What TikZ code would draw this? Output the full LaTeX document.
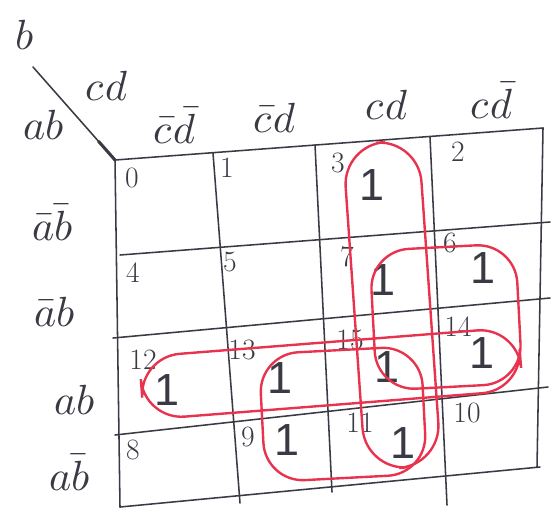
\documentclass[tikz,border=0pt]{standalone}
\usepackage{fontspec}
\usepackage{unicode-math}
\usetikzlibrary{calc}
\newfontfamily\onefont{Liberation Sans}
\definecolor{pencil}{HTML}{3A3A44}
\definecolor{marker}{HTML}{E8334F}
\tikzset{
  gridline/.style={draw=pencil, line width=1.1pt, line cap=round},
  loopline/.style={draw=marker, line width=1.7pt, rounded corners=#1},
  loopline/.default=25,
  varlabel/.style={text=pencil, font=\fontsize{30}{34}\selectfont, inner sep=0pt},
  cellnum/.style={text=pencil, font=\fontsize{21}{24}\selectfont, inner sep=0pt},
  cellone/.style={text=pencil, font=\fontsize{32}{36}\selectfont\onefont, inner sep=0pt}
}

\begin{document}
\begin{tikzpicture}[x=0.025cm, y=-0.025cm]

\useasboundingbox (0,0) rectangle (551,508);

% grid corners
\coordinate (t0) at (115,160);
\coordinate (t1) at (213,153);
\coordinate (t2) at (315,145);
\coordinate (t3) at (430,137);
\coordinate (t4) at (543,128);
\coordinate (b0) at (120,507);
\coordinate (b1) at (240,503);
\coordinate (b2) at (332,492);
\coordinate (b3) at (447,505);
\coordinate (b4) at (537,467);
\coordinate (l1) at (120,255);
\coordinate (r1) at (550,222);
\coordinate (l2) at (113,338);
\coordinate (r2) at (550,298);
\coordinate (l3) at (115,435);
\coordinate (r3) at (548,387);
\coordinate (l4) at (120,507);
\coordinate (r4) at (540,467);
\coordinate (corner) at (33,67);

% grid
\draw[gridline] (t0) -- (t4);
\draw[gridline] (l1) -- (r1);
\draw[gridline] (l2) -- (r2);
\draw[gridline] (l3) -- (r3);
\draw[gridline] (l4) -- (r4);
\draw[gridline] (t0) -- (b0);
\draw[gridline] (t1) -- (b1);
\draw[gridline] (t2) -- (b2);
\draw[gridline] (t3) -- (b3);
\draw[gridline] (t4) -- (b4);
\draw[gridline] (corner) -- (t0);
\draw[gridline, line width=2.2pt] ($(corner)!0.8!(t0)$) -- (t0);

% variable labels
\node[varlabel] (vb) at (25,35) {$b$};
\node[varlabel] (vab) at (44,125) {$ab$};
\node[varlabel] (vcd) at (107,86) {$cd$};
\node[varlabel] (c00) at (175,125) {$\bar c\bar d$};
\node[varlabel] (c01) at (275,118) {$\bar c d$};
\node[varlabel] (c11) at (387,105) {$c d$};
\node[varlabel] (c10) at (492,100) {$c\bar d$};
\node[varlabel] (r00) at (53,222) {$\bar a\bar b$};
\node[varlabel] (r01) at (55,312) {$\bar a b$};
\node[varlabel] (r11) at (75,400) {$a b$};
\node[varlabel] (r10) at (70,472) {$a\bar b$};

% cell numbers
\node[cellnum] (n0) at (132,178) {0};
\node[cellnum] (n1) at (227,168) {1};
\node[cellnum] (n3) at (338,163) {3};
\node[cellnum] (n2) at (458,152) {2};
\node[cellnum] (n4) at (133,273) {4};
\node[cellnum] (n5) at (230,262) {5};
\node[cellnum] (n7) at (347,257) {7};
\node[cellnum] (n6) at (450,243) {6};
\node[cellnum] (n12) at (143,360) {12};
\node[cellnum] (n13) at (242,350) {13};
\node[cellnum] (n15) at (350,340) {15};
\node[cellnum] (n14) at (458,327) {14};
\node[cellnum] (n8) at (133,450) {8};
\node[cellnum] (n9) at (248,437) {9};
\node[cellnum] (n11) at (360,423) {11};
\node[cellnum] (n10) at (467,413) {10};

% minterms
\node[cellone] (m3) at (372,185) {1};
\node[cellone] (m7) at (383,280) {1};
\node[cellone] (m6) at (483,268) {1};
\node[cellone] (m12) at (167,390) {1};
\node[cellone] (m13) at (280,378) {1};
\node[cellone] (m15) at (387,367) {1};
\node[cellone] (m14) at (482,353) {1};
\node[cellone] (m9) at (287,440) {1};
\node[cellone] (m11) at (403,443) {1};

% groups
\draw[loopline=30, rotate around={4:(392,305)}] (354,142) rectangle (430,468);
\draw[loopline=28, rotate around={3:(446,317)}] (373,247) rectangle (519,387);
\draw[loopline=29, rotate around={4.5:(331,374)}] (141,342) rectangle (521,405);
\draw[loopline=28, rotate around={3:(343,414)}] (262,350) rectangle (424,478);

\end{tikzpicture}
\end{document}
